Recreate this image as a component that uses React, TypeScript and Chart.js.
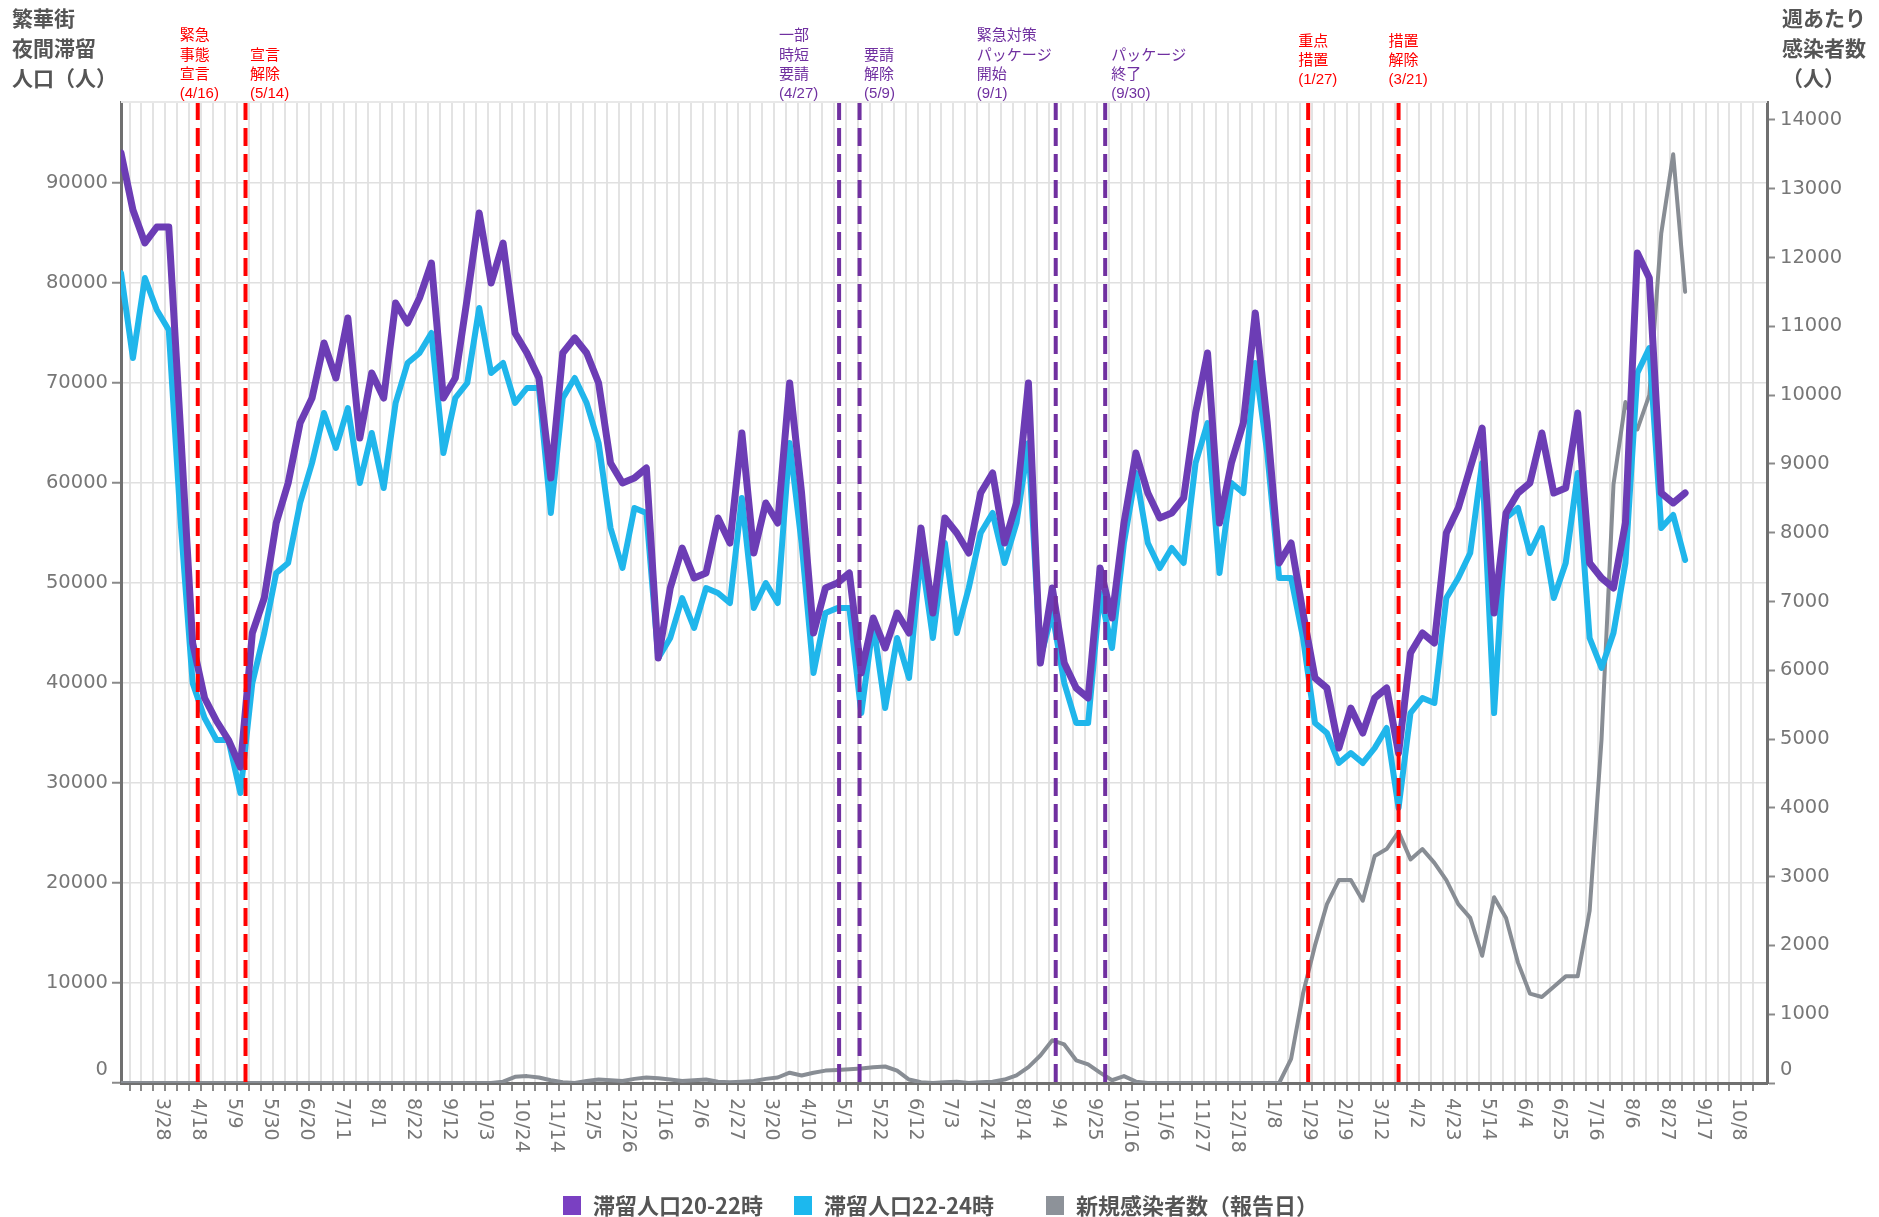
import React, { useEffect, useRef } from 'react';
import { Chart, registerables } from 'chart.js';

Chart.register(...registerables);

const W = 1879;
const H = 1217;

// ---- data (weekly, first week starting 2020-03-02) ----
const START_DATE = '2020-03-02';

const stay2022: number[] = [
  93000, 87300, 84000, 85600, 85600, 65000, 44000, 38500, 36200, 34300,
  31600, 45000, 48500, 56000, 60000, 66000, 68500, 74000, 70500, 76500,
  64500, 71000, 68500, 78000, 76000, 78500, 82000, 68500, 70500, 78500,
  87000, 80000, 84000, 75000, 73000, 70500, 60500, 73000, 74500, 73000,
  70000, 62000, 60000, 60500, 61500, 42500, 49500, 53500, 50500, 51000,
  56500, 54000, 65000, 53000, 58000, 56000, 70000, 59000, 45000, 49500,
  50000, 51000, 41000, 46500, 43500, 47000, 45000, 55500, 47000, 56500,
  55000, 53000, 59000, 61000, 54000, 58000, 70000, 42000, 49500, 42000,
  39500, 38500, 51500, 46500, 56000, 63000, 59000, 56500, 57000, 58500,
  67000, 73000, 56000, 62000, 66000, 77000, 66000, 52000, 54000, 47000,
  40500, 39500, 33500, 37500, 35000, 38500, 39500, 33000, 43000, 45000,
  44000, 55000, 57500, 61500, 65500, 47000, 57000, 59000, 60000, 65000,
  59000, 59500, 67000, 52000, 50500, 49500, 56000, 83000, 80500, 59000,
  58000, 59000,
];

const stay2224: number[] = [
  81000, 72500, 80500, 77300, 75300, 56000, 40000, 36500, 34300, 34300,
  29000, 40000, 45000, 51000, 52000, 58000, 62000, 67000, 63500, 67500,
  60000, 65000, 59500, 68000, 72000, 73000, 75000, 63000, 68500, 70000,
  77500, 71000, 72000, 68000, 69500, 69500, 57000, 68500, 70500, 68000,
  64000, 55500, 51500, 57500, 57000, 42500, 44500, 48500, 45500, 49500,
  49000, 48000, 58500, 47500, 50000, 48000, 64000, 54000, 41000, 47000,
  47500, 47500, 37000, 46000, 37500, 44500, 40500, 53000, 44500, 54000,
  45000, 49500, 55000, 57000, 52000, 56000, 64000, 42500, 47000, 40000,
  36000, 36000, 49000, 43500, 54000, 61000, 54000, 51500, 53500, 52000,
  62000, 66000, 51000, 60000, 59000, 72000, 63000, 50500, 50500, 44500,
  36000, 35000, 32000, 33000, 32000, 33500, 35500, 27500, 37000, 38500,
  38000, 48500, 50500, 53000, 62000, 37000, 56500, 57500, 53000, 55500,
  48500, 52000, 61000, 44500, 41500, 45000, 52000, 71000, 73500, 55500,
  56800, 52300,
];

const newCases: number[] = [
  0, 0, 0, 0, 0, 0, 0, 0, 0, 0,
  0, 0, 0, 0, 0, 0, 0, 0, 0, 0,
  0, 0, 0, 0, 0, 0, 0, 0, 0, 0,
  0, 0, 20, 90, 100, 80, 40, 10, 0, 30,
  50, 40, 30, 60, 80, 70, 50, 30, 40, 50,
  20, 10, 20, 30, 60, 80, 150, 110, 150, 180,
  190, 200, 210, 230, 240, 180, 50, 10, 0, 10,
  20, 0, 10, 20, 50, 110, 230, 400, 620, 560,
  330, 270, 150, 40, 100, 20, 0, 0, 0, 0,
  0, 0, 0, 0, 0, 0, 0, 0, 350, 1300,
  2000, 2600, 2950, 2950, 2650, 3300, 3400, 3650, 3250, 3400,
  3200, 2950, 2600, 2400, 1850, 2700, 2400, 1750, 1300, 1250,
  1400, 1550, 1550, 2500, 5000, 8700, 9900, 9500, 10000, 12350,
  13500, 11500,
];

const TICK_LABELS = [
  '3/28', '4/18', '5/9', '5/30', '6/20', '7/11', '8/1', '8/22', '9/12', '10/3',
  '10/24', '11/14', '12/5', '12/26', '1/16', '2/6', '2/27', '3/20', '4/10', '5/1',
  '5/22', '6/12', '7/3', '7/24', '8/14', '9/4', '9/25', '10/16', '11/6', '11/27',
  '12/18', '1/8', '1/29', '2/19', '3/12', '4/2', '4/23', '5/14', '6/4', '6/25',
  '7/16', '8/6', '8/27', '9/17', '10/8',
];
const FIRST_LABEL_DATE = '2020-03-28';
const FIRST_GRID_DATE = '2020-03-07';
const LAST_GRID_DATE = '2022-10-15';
const AXIS_END_DATE = '2022-10-23';

const LEFT_TICKS = [0, 10000, 20000, 30000, 40000, 50000, 60000, 70000, 80000, 90000];
const RIGHT_TICKS = [0, 1000, 2000, 3000, 4000, 5000, 6000, 7000, 8000, 9000, 10000, 11000, 12000, 13000, 14000];
const LEFT_MAX = 98100;
const RIGHT_MAX = 14260;

const LEFT_TITLE = ['繁華街', '夜間滞留', '人口（人）'];
const RIGHT_TITLE = ['週あたり', '感染者数', '（人）'];

const SERIES_NAMES = ['滞留人口20-22時', '滞留人口22-24時', '新規感染者数（報告日）'];

const EVENT_DATES = ['2020-04-16', '2020-05-14', '2021-04-27', '2021-05-09', '2021-09-01', '2021-09-30', '2022-01-27', '2022-03-21'];
const EVENT_TEXTS = [
  ['緊急', '事態', '宣言', '(4/16)'],
  ['宣言', '解除', '(5/14)'],
  ['一部', '時短', '要請', '(4/27)'],
  ['要請', '解除', '(5/9)'],
  ['緊急対策', 'パッケージ', '開始', '(9/1)'],
  ['パッケージ', '終了', '(9/30)'],
  ['重点', '措置', '(1/27)'],
  ['措置', '解除', '(3/21)'],
];
const EVENT_KINDS = ['red', 'red', 'purple', 'purple', 'purple', 'purple', 'red', 'red'];

// ---- styles / layout ----
const PURPLE = '#6c3db5';
const BLUE = '#20b6eb';
const GRAY = '#888d94';
const EVENT_COLORS: Record<string, string> = { red: '#ff0000', purple: '#7030a0' };
const EVENT_TEXT_DX = [-18, 4.5, -60, 4.5, -79, 6, -10, -10];
const EVENT_TEXT_BOTTOM = [94, 94, 94, 94, 94, 94, 80, 80];
const EVENT_LINE_GAP = 19.3;
const LEGEND_X = [563, 794, 1046];
const LEGEND_COLORS = ['#7a40c2', '#1cb8ee', '#8d9299'];
const TICK_FONT_CSS = '19.5px "DejaVu Sans"';

const dayOf = (iso: string) => Math.round((Date.parse(iso) - Date.parse(START_DATE)) / 86400000);

const overlayPlugin = {
  id: 'overlay',
  afterDatasetsDraw(chart: any) {
    const { ctx, chartArea, scales } = chart;
    const xs = scales.x;
    ctx.save();
    EVENT_DATES.forEach((d, k) => {
      const px = xs.getPixelForValue(dayOf(d));
      ctx.strokeStyle = EVENT_COLORS[EVENT_KINDS[k]];
      ctx.lineWidth = 4;
      ctx.setLineDash([18, 8]);
      ctx.beginPath();
      ctx.moveTo(px, chartArea.top);
      ctx.lineTo(px, chartArea.bottom + 3);
      ctx.stroke();
    });
    ctx.restore();
  },
  afterDraw(chart: any) {
    const { ctx, chartArea, scales } = chart;
    const xs = scales.x;
    ctx.save();
    // faint top line
    ctx.strokeStyle = '#e8e8e8';
    ctx.lineWidth = 2;
    ctx.beginPath();
    ctx.moveTo(chartArea.left, chartArea.top);
    ctx.lineTo(chartArea.right, chartArea.top);
    ctx.stroke();

    // zero labels, lifted above the baseline as in the original
    ctx.font = TICK_FONT_CSS;
    ctx.fillStyle = '#777';
    ctx.textBaseline = 'middle';
    ctx.textAlign = 'right';
    ctx.fillText('0', chartArea.left - 13, chartArea.bottom - 13);
    ctx.textAlign = 'left';
    ctx.fillText('0', chartArea.right + 13, chartArea.bottom - 13);

    // x tick labels, rotated clockwise
    ctx.font = '19px "DejaVu Sans"';
    ctx.fillStyle = '#777';
    ctx.textAlign = 'left';
    ctx.textBaseline = 'middle';
    const first = dayOf(FIRST_LABEL_DATE);
    TICK_LABELS.forEach((lab, k) => {
      const px = xs.getPixelForValue(first + 21 * k);
      ctx.save();
      ctx.translate(px - 3, chartArea.bottom + 15);
      ctx.rotate(Math.PI / 2);
      ctx.fillText(lab, 0, 0);
      ctx.restore();
    });

    // axis titles
    ctx.font = 'bold 21px "Noto Sans CJK JP"';
    ctx.fillStyle = '#555';
    ctx.textBaseline = 'middle';
    LEFT_TITLE.forEach((t, j) => ctx.fillText(t, 12, 18 + 30 * j));
    RIGHT_TITLE.forEach((t, j) => ctx.fillText(t, 1782, 18 + 30 * j));

    // event annotations
    ctx.font = '15px "Liberation Sans", "Noto Sans CJK JP", sans-serif';
    EVENT_DATES.forEach((d, k) => {
      const px = xs.getPixelForValue(dayOf(d));
      ctx.fillStyle = EVENT_COLORS[EVENT_KINDS[k]];
      const lines = EVENT_TEXTS[k];
      lines.forEach((t, j) => {
        const y = EVENT_TEXT_BOTTOM[k] - (lines.length - 1 - j) * EVENT_LINE_GAP;
        ctx.fillText(t, px + EVENT_TEXT_DX[k], y);
      });
    });

    // legend
    ctx.font = 'bold 22px "Noto Sans CJK JP"';
    SERIES_NAMES.forEach((name, k) => {
      const lx = LEGEND_X[k];
      ctx.fillStyle = LEGEND_COLORS[k];
      ctx.fillRect(lx, 1196, 18, 19);
      ctx.fillStyle = '#555';
      ctx.fillText(name, lx + 30, 1206);
    });
    ctx.restore();
  },
};

export default function App() {
  const ref = useRef<HTMLCanvasElement>(null);
  useEffect(() => {
    document.body.style.margin = '0';
    const gridDays: number[] = [];
    for (let d = dayOf(FIRST_GRID_DATE); d <= dayOf(LAST_GRID_DATE); d += 7) gridDays.push(d);
    const toPts = (arr: number[]) => arr.map((v, i) => ({ x: i * 7, y: v }));
    const tickFont = { family: '"DejaVu Sans"', size: 19.5 };
    const plain = (v: any) => (v === 0 ? '' : String(v));
    const chart = new Chart(ref.current as HTMLCanvasElement, {
      type: 'line',
      data: {
        datasets: [
          { label: SERIES_NAMES[0], data: toPts(stay2022), borderColor: PURPLE, backgroundColor: PURPLE, borderWidth: 7, pointRadius: 0, tension: 0, yAxisID: 'y', borderJoinStyle: 'round', borderCapStyle: 'round' },
          { label: SERIES_NAMES[1], data: toPts(stay2224), borderColor: BLUE, backgroundColor: BLUE, borderWidth: 6, pointRadius: 0, tension: 0, yAxisID: 'y', borderJoinStyle: 'round', borderCapStyle: 'round' },
          { label: SERIES_NAMES[2], data: toPts(newCases), borderColor: GRAY, backgroundColor: GRAY, borderWidth: 4, pointRadius: 0, tension: 0, yAxisID: 'y1', borderJoinStyle: 'round', borderCapStyle: 'round' },
        ],
      } as any,
      options: {
        responsive: false,
        animation: false,
        devicePixelRatio: 1,
        layout: { padding: { top: 102, left: 0, right: 0, bottom: 0 } },
        plugins: { legend: { display: false }, tooltip: { enabled: false } },
        scales: {
          x: {
            type: 'linear',
            min: 0,
            max: dayOf(AXIS_END_DATE),
            afterBuildTicks: (s: any) => { s.ticks = gridDays.map((v) => ({ value: v })); },
            afterFit: (s: any) => { s.height = H - 1083; },
            ticks: { display: false, autoSkip: false },
            grid: { color: '#e3e3e3', lineWidth: 2, tickLength: 8, tickColor: '#8a8a8a', tickWidth: 2 },
            border: { color: '#707070', width: 3 },
          },
          y: {
            position: 'left',
            min: 0,
            max: LEFT_MAX,
            afterBuildTicks: (s: any) => { s.ticks = LEFT_TICKS.map((v) => ({ value: v })); },
            afterFit: (s: any) => { s.width = 121; },
            ticks: { font: tickFont, color: '#777', padding: 4, callback: plain },
            grid: { color: '#e0e0e0', lineWidth: 1.5, tickLength: 9, tickColor: '#8a8a8a', tickWidth: 2 },
            border: { color: '#707070', width: 3 },
          },
          y1: {
            position: 'right',
            min: 0,
            max: RIGHT_MAX,
            afterBuildTicks: (s: any) => { s.ticks = RIGHT_TICKS.map((v) => ({ value: v })); },
            afterFit: (s: any) => { s.width = W - 1767; },
            ticks: { font: tickFont, color: '#777', padding: 5, callback: plain },
            grid: { drawOnChartArea: false, tickLength: 8, tickColor: '#8a8a8a', tickWidth: 2 },
            border: { color: '#707070', width: 3 },
          },
        },
      } as any,
      plugins: [overlayPlugin],
    });
    return () => chart.destroy();
  }, []);
  return (
    <div style={{ position: 'absolute', left: 0, top: 0, width: W, height: H, background: '#fff' }}>
      <canvas ref={ref} width={W} height={H} style={{ display: 'block', width: W, height: H }} />
    </div>
  );
}
